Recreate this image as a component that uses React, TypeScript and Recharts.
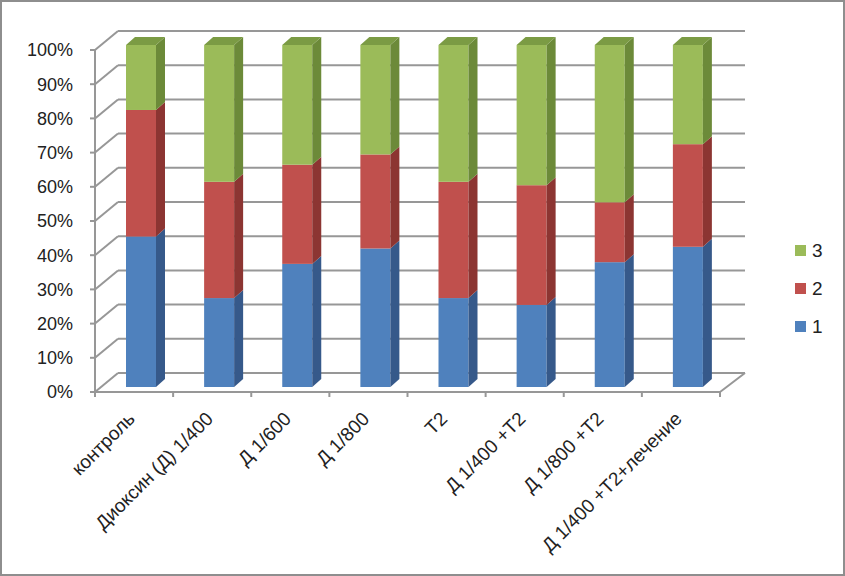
import React from 'react';
import { BarChart, Bar, XAxis, YAxis, CartesianGrid, Legend } from 'recharts';

const categories = [
  'контроль',
  'Диоксин (Д) 1/400',
  'Д 1/600',
  'Д 1/800',
  'T2',
  'Д 1/400 +T2',
  'Д 1/800 +T2',
  'Д 1/400 +T2+лечение',
];
const series1 = [44, 26, 36, 40.5, 26, 24, 36.5, 41];
const series2 = [37, 34, 29, 27.5, 34, 35, 17.5, 30];
const series3 = [19, 40, 35, 32, 40, 41, 46, 29];
const seriesNames = ['1', '2', '3'];
const yTicks = [0, 0.1, 0.2, 0.3, 0.4, 0.5, 0.6, 0.7, 0.8, 0.9, 1];

const data = categories.map((name, i) => ({
  name,
  s1: series1[i],
  s2: series2[i],
  s3: series3[i],
}));

const FONT = '"Liberation Sans", Arial, sans-serif';
const TEXT = '#222222';
const GRID = '#979797';
// bar depth (3D extrusion)
const DX = 9;
const DY = -8;
// offsets from the bar plane to the back wall and to the front plane
const WALL_DX = 16;
const WALL_DY = -14;
const FRONT_DX = -7;
const FRONT_DY = 5;

const make3D = (front: string, side: string, top: string, drawTop: boolean) => (props: any) => {
  const { x, y, width, height } = props;
  if (width == null || height == null || !(height > 0)) return <g />;
  return (
    <g>
      <rect x={x} y={y} width={width} height={height} fill={front} />
      <polygon
        points={`${x + width},${y} ${x + width + DX},${y + DY} ${x + width + DX},${y + height + DY} ${x + width},${y + height}`}
        fill={side}
      />
      {drawTop && (
        <polygon
          points={`${x},${y} ${x + DX},${y + DY} ${x + width + DX},${y + DY} ${x + width},${y}`}
          fill={top}
        />
      )}
    </g>
  );
};

const shape1 = make3D('#4F81BD', '#36598A', '#3F6A9E', false);
const shape2 = make3D('#C0504D', '#8C3532', '#A3403D', false);
const shape3 = make3D('#9BBB59', '#6C8A39', '#7B9B44', true);

const YTick = (props: any) => {
  const { x, y, payload } = props;
  const fx = x + FRONT_DX;
  const fy = y + FRONT_DY;
  return (
    <g>
      <line x1={fx - 5} y1={fy} x2={fx} y2={fy} stroke={GRID} strokeWidth={2} />
      <line x1={fx} y1={fy} x2={x + WALL_DX} y2={y + WALL_DY} stroke={GRID} strokeWidth={2} />
      <text
        x={fx - 22}
        y={fy}
        dy="0.35em"
        textAnchor="end"
        fontFamily={FONT}
        fontSize={18}
        fill={TEXT}
      >
        {`${Math.round(payload.value * 100)}%`}
      </text>
    </g>
  );
};

const XTick = (props: any) => {
  const { x, y, payload, index } = props;
  let half = payload && typeof payload.offset === 'number' && payload.offset > 0 ? payload.offset : 39;
  const cx = x + FRONT_DX;
  const fy = y + FRONT_DY;
  const left = cx - half;
  const right = cx + half;
  const last = index === categories.length - 1;
  const px = x - 5;
  const py = y + 33;
  return (
    <g>
      <line x1={left} y1={fy} x2={left} y2={fy + 5} stroke={GRID} strokeWidth={2} />
      {last && <line x1={right} y1={fy} x2={right} y2={fy + 5} stroke={GRID} strokeWidth={2} />}
      {last && (
        <line
          x1={right}
          y1={fy}
          x2={right + (WALL_DX - FRONT_DX) + 2}
          y2={fy + (WALL_DY - FRONT_DY)}
          stroke={GRID}
          strokeWidth={2}
        />
      )}
      <text
        x={px}
        y={py}
        textAnchor="end"
        transform={`rotate(-45 ${px} ${py})`}
        fontFamily={FONT}
        fontSize={19}
        fill={TEXT}
      >
        {payload.value}
      </text>
    </g>
  );
};

const LegendContent = (props: any) => {
  const items = [...(props.payload || [])].reverse();
  return (
    <div style={{ fontFamily: FONT }}>
      {items.map((it: any) => (
        <div key={it.value} style={{ display: 'flex', alignItems: 'center', height: 38 }}>
          <span
            style={{ width: 11, height: 11, background: it.color, display: 'inline-block', marginRight: 6 }}
          />
          <span style={{ fontSize: 19, color: TEXT, lineHeight: '19px' }}>{it.value}</span>
        </div>
      ))}
    </div>
  );
};

const gridGenerator = (args: any) => {
  const yAxis = args && args.yAxis;
  const off = args && args.offset;
  return yTicks.map((v) => {
    let py: number;
    if (yAxis && typeof yAxis.scale === 'function') {
      py = yAxis.scale(v);
    } else {
      py = off.top + off.height * (1 - v);
    }
    return py + WALL_DY;
  });
};

export default function App() {
  return (
    <div style={{ position: 'absolute', left: 0, top: 0, width: 845, height: 576, background: '#fff' }}>
      <BarChart
        width={845}
        height={576}
        data={data}
        stackOffset="expand"
        barSize={30}
        margin={{ top: 45, right: 118, bottom: 129, left: 42 }}
        style={{ fontFamily: FONT }}
      >
        <CartesianGrid
          vertical={false}
          x={118}
          width={627}
          stroke={GRID}
          strokeWidth={2}
          horizontalCoordinatesGenerator={gridGenerator}
        />
        <XAxis
          dataKey="name"
          type="category"
          interval={0}
          height={60}
          tickSize={0}
          tickMargin={0}
          tickLine={false}
          axisLine={{ stroke: GRID, strokeWidth: 2, transform: `translate(${FRONT_DX},${FRONT_DY})` } as any}
          tick={<XTick />}
        />
        <YAxis
          type="number"
          domain={[0, 1]}
          ticks={yTicks}
          interval={0}
          width={60}
          tickSize={0}
          tickMargin={0}
          tickLine={false}
          axisLine={{ stroke: GRID, strokeWidth: 2, transform: `translate(${FRONT_DX},${FRONT_DY})` } as any}
          tick={<YTick />}
        />
        <Legend
          layout="vertical"
          align="center"
          verticalAlign="middle"
          wrapperStyle={{ left: 795, top: 231, width: 40 }}
          content={<LegendContent />}
        />
        <Bar dataKey="s1" name={seriesNames[0]} stackId="a" fill="#4F81BD" shape={shape1} isAnimationActive={false} />
        <Bar dataKey="s2" name={seriesNames[1]} stackId="a" fill="#C0504D" shape={shape2} isAnimationActive={false} />
        <Bar dataKey="s3" name={seriesNames[2]} stackId="a" fill="#9BBB59" shape={shape3} isAnimationActive={false} />
      </BarChart>
      <div
        style={{
          position: 'absolute',
          left: 0,
          top: 0,
          width: 845,
          height: 576,
          boxSizing: 'border-box',
          border: '2px solid #8e8e8e',
          pointerEvents: 'none',
        }}
      />
    </div>
  );
}
